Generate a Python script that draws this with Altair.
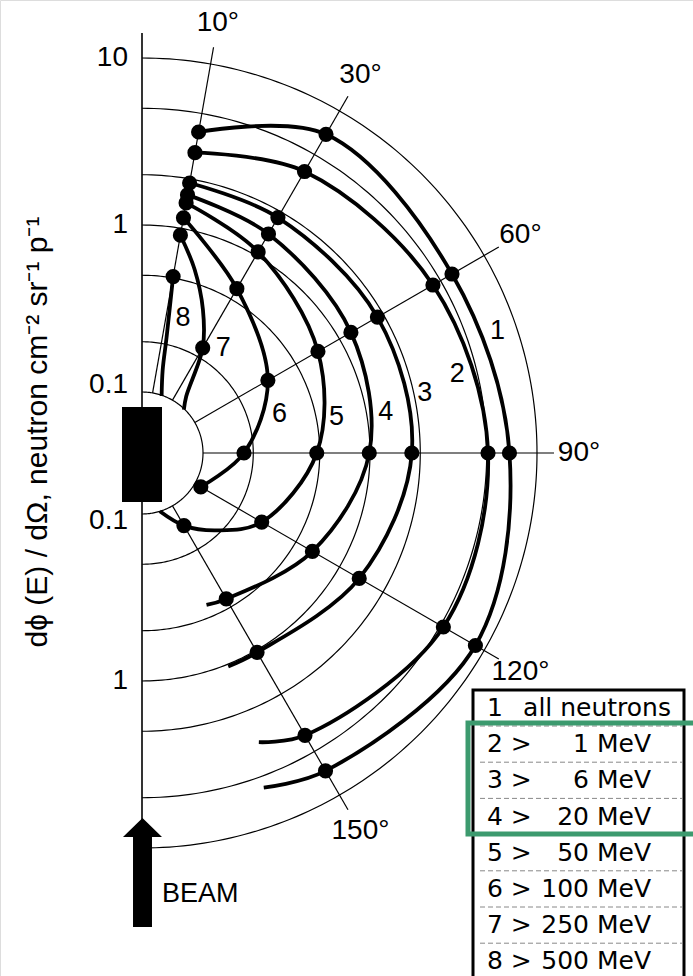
import altair as alt
import pandas as pd

# ---------------- canvas / polar frame ----------------
W, H = 693, 976
CX, CY = 142, 453          # pole (target) position in pixels
PPD = 167.0                # pixels per decade on the radial log scale
R0 = 61.0                  # radius of the 0.1 circle (pixels)
RHO0 = R0 / PPD
RAY_END = 412 / PPD
ANG_LABEL_R = 437 / PPD

# ---------------- data ----------------
ray_angles = [10, 30, 60, 90, 120, 150]
ray_labels = ["10°", "30°", "60°", "90°", "120°", "150°"]
grid_values = [0.1, 0.2, 0.5, 1, 2, 5, 10]

c1_angle = [10, 30, 60, 90, 120, 150, 160]
c1_value = [3.86, 6.89, 6.00, 6.84, 8.71, 6.80, 5.84]
c2_angle = [10, 30, 60, 90, 120, 150, 158]
c2_value = [2.89, 3.81, 4.43, 5.09, 5.23, 3.86, 3.18]
c3_angle = [10, 30, 60, 90, 120, 150, 158]
c3_value = [1.89, 1.83, 1.83, 1.78, 1.37, 1.03, 1.03]
c4_angle = [10, 30, 60, 90, 120, 150, 157]
c4_value = [1.60, 1.41, 1.20, 0.99, 0.65, 0.44, 0.42]
c5_angle = [10, 30, 60, 90, 120, 136, 150, 163]
c5_value = [1.43, 1.06, 0.71, 0.48, 0.29, 0.19, 0.137, 0.10]
c6_angle = [10, 30, 60, 90, 120]
c6_value = [1.16, 0.59, 0.32, 0.176, 0.11]
c7_angle = [10, 16, 23, 30, 38, 44]
c7_value = [0.91, 0.60, 0.37, 0.23, 0.116, 0.099]
c8_angle = [10, 12, 14, 19]
c8_value = [0.51, 0.22, 0.14, 0.099]

label_text = ["1", "2", "3", "4", "5", "6", "7", "8"]
label_angle = [71, 76, 78, 80.5, 79.5, 74, 37.6, 17]
label_value = [7.7, 3.81, 2.32, 1.30, 0.66, 0.31, 0.27, 0.30]

axis_text = ["10", "1", "0.1", "0.1", "1"]
axis_value = [10, 1, 0.1, 0.1, 1]
axis_side = [1, 1, 1, -1, -1]

legend_num = ["1", "2 >", "3 >", "4 >", "5 >", "6 >", "7 >", "8 >"]
legend_energy = ["all neutrons", "1 MeV", "6 MeV", "20 MeV", "50 MeV",
                 "100 MeV", "250 MeV", "500 MeV"]

Y_TITLE = "dϕ (E) / dΩ,  neutron cm⁻² sr⁻¹ p⁻¹"

# ---------------- tables ----------------
curves = [(c1_angle, c1_value), (c2_angle, c2_value), (c3_angle, c3_value),
          (c4_angle, c4_value), (c5_angle, c5_value), (c6_angle, c6_value),
          (c7_angle, c7_value), (c8_angle, c8_value)]
rows = []
for cid, (angs, vals) in enumerate(curves, start=1):
    for k, (a, v) in enumerate(zip(angs, vals)):
        rows.append({"curve": cid, "k": k, "angle": a, "value": v,
                     "dot": a in ray_angles})
curve_df = pd.DataFrame(rows)

FONT = "Liberation Sans"
xs = alt.Scale(domain=[-CX / PPD, (W - CX) / PPD], nice=False, zero=False)
ys = alt.Scale(domain=[-(H - CY) / PPD, CY / PPD], nice=False, zero=False)
RHO = f"log(datum.value)/LN10 + 1 + {RHO0}"


def X(f):
    return alt.X(f"{f}:Q", scale=xs, axis=None)


def Y(f):
    return alt.Y(f"{f}:Q", scale=ys, axis=None)


def polar(ch, rho_expr, ang="angle"):
    return ch.transform_calculate(rho=rho_expr).transform_calculate(
        px=f"datum.rho*sin(datum.{ang}*PI/180)",
        py=f"datum.rho*cos(datum.{ang}*PI/180)")


one = pd.DataFrame({"a": [0]})

# grid circles
grid = polar(
    alt.Chart(pd.DataFrame({"value": grid_values}))
    .transform_calculate(angle="sequence(0, 181, 1)")
    .transform_flatten(["angle"]),
    RHO,
).mark_line(color="black", strokeWidth=1.2).encode(
    x=X("px"), y=Y("py"), detail="value:N", order=alt.Order("angle:Q"))

# rays
rays = alt.Chart(pd.DataFrame({"angle": ray_angles})).transform_calculate(
    x1=f"{RHO0}*sin(datum.angle*PI/180)", y1=f"{RHO0}*cos(datum.angle*PI/180)",
    x2=f"{RAY_END}*sin(datum.angle*PI/180)", y2=f"{RAY_END}*cos(datum.angle*PI/180)",
).mark_rule(color="black", strokeWidth=1.2).encode(
    x=X("x1"), y=Y("y1"), x2="x2:Q", y2="y2:Q")

# angle labels
ang_lab = polar(
    alt.Chart(pd.DataFrame({"angle": ray_angles, "t": ray_labels})),
    f"{ANG_LABEL_R}",
).mark_text(font=FONT, fontSize=28, align="center", baseline="middle",
            color="black").encode(x=X("px"), y=Y("py"), text="t:N")

# vertical axis
axis_line = alt.Chart(one).mark_rule(color="black", strokeWidth=1.6).encode(
    x=alt.value(CX), y=alt.value(33), y2=alt.value(822))

# curves and dots
curve_lines = polar(alt.Chart(curve_df), RHO).mark_line(
    color="black", strokeWidth=3.8, interpolate="catmull-rom").encode(
    x=X("px"), y=Y("py"), detail="curve:N", order=alt.Order("k:Q"))

dots = polar(alt.Chart(curve_df).transform_filter("datum.dot"), RHO).mark_circle(
    size=230, color="black", opacity=1).encode(x=X("px"), y=Y("py"))

# curve number labels
cur_lab = polar(
    alt.Chart(pd.DataFrame({"angle": label_angle, "value": label_value,
                            "t": label_text})), RHO,
).mark_text(font=FONT, fontSize=27, align="center", baseline="middle",
            color="black").encode(x=X("px"), y=Y("py"), text="t:N")

# radial axis labels
ax_lab = alt.Chart(pd.DataFrame({"value": axis_value, "side": axis_side,
                                 "t": axis_text})).transform_calculate(
    rho=RHO).transform_calculate(
    px=f"{-14 / PPD}",
    py="datum.side*(datum.rho + (datum.value < 0.15 ? 0.04 : 0.0))",
).mark_text(font=FONT, fontSize=28, align="right", baseline="middle",
            color="black").encode(x=X("px"), y=Y("py"), text="t:N")

# y title
ytitle = alt.Chart(one).mark_text(
    text=Y_TITLE, font=FONT, fontSize=30, angle=270, align="center",
    baseline="middle", color="black").encode(x=alt.value(38), y=alt.value(432))

# target and beam
target = alt.Chart(one).mark_rect(color="black").encode(
    x=alt.value(122), x2=alt.value(162), y=alt.value(407), y2=alt.value(502))

ARROW = ("M0,-1L0.358,-0.651L0.174,-0.651L0.174,1L-0.174,1L-0.174,-0.651"
         "L-0.358,-0.651Z")
arrow = alt.Chart(one).mark_point(
    shape=ARROW, filled=True, fill="black", strokeWidth=0, opacity=1,
    size=109 * 109).encode(x=alt.value(142.5), y=alt.value(872.5))

beam = alt.Chart(one).mark_text(
    text="BEAM", font=FONT, fontSize=27, align="left", baseline="middle",
    color="black").encode(x=alt.value(162), y=alt.value(894))

# legend table
leg_df = pd.DataFrame({"row": list(range(len(legend_num))), "num": legend_num,
                       "energy": legend_energy})
leg_base = alt.Chart(leg_df).transform_calculate(
    yd=f"({CY} - (708 + 36.2*datum.row))/{PPD}",
    xl=f"(487 - {CX})/{PPD}",
    xr=f"((datum.row == 0 ? 671 : 651) - {CX})/{PPD}",
)
LFONT = "DejaVu Sans"
leg_num = leg_base.mark_text(font=LFONT, fontSize=25, align="left",
                             baseline="middle", color="black").encode(
    x=X("xl"), y=Y("yd"), text="num:N")
leg_en = leg_base.mark_text(font=LFONT, fontSize=25, align="right",
                            baseline="middle", color="black").encode(
    x=X("xr"), y=Y("yd"), text="energy:N")

seps = alt.Chart(pd.DataFrame({"k": list(range(7))})).transform_calculate(
    yd=f"({CY} - (726 + 36.2*datum.k))/{PPD}"
).mark_rule(color="#888888", strokeWidth=1, strokeDash=[5, 3]).encode(
    x=alt.value(480), x2=alt.value(682), y=Y("yd"))

leg_box = alt.Chart(one).mark_rect(
    fillOpacity=0, stroke="black", strokeWidth=3).encode(
    x=alt.value(473), x2=alt.value(684), y=alt.value(690), y2=alt.value(995))

green = alt.Chart(one).mark_rect(
    fillOpacity=0, stroke="#3c9a6e", strokeWidth=5).encode(
    x=alt.value(468), x2=alt.value(720), y=alt.value(723), y2=alt.value(834))

chart = alt.layer(
    grid, rays, axis_line, curve_lines, dots, ang_lab, cur_lab, ax_lab,
    ytitle, target, arrow, beam, seps, leg_box, leg_num, leg_en, green,
).properties(
    width=W, height=H, padding=0,
    autosize=alt.AutoSizeParams(type="none"),
).configure_view(stroke=None).configure(background="white")

chart.save("out.html", embed_options={"renderer": "svg", "actions": False})
